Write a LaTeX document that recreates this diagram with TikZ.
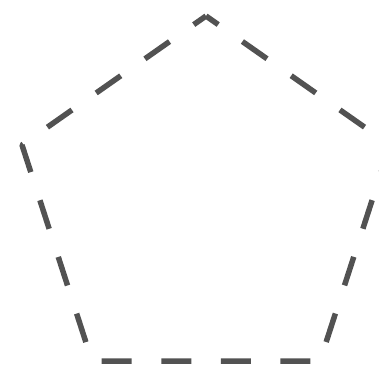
\documentclass[tikz,border=0pt]{standalone}
\begin{document}
\begin{tikzpicture}[x=1pt,y=-1pt,
  pentline/.style={draw=black!68,line width=5.5pt,line join=round,
    dash pattern=on 30pt off 29.56pt,dash phase=15pt}]
\useasboundingbox (0,0) rectangle (379,369);
\coordinate (T) at (206,16);
\coordinate (L) at (22,145);
\coordinate (BL) at (92,361);
\coordinate (BR) at (320,361);
\coordinate (R) at (390,145);
\draw[pentline] (T) -- (L) -- (BL) -- (BR) -- (R) -- cycle;
\end{tikzpicture}
\end{document}
